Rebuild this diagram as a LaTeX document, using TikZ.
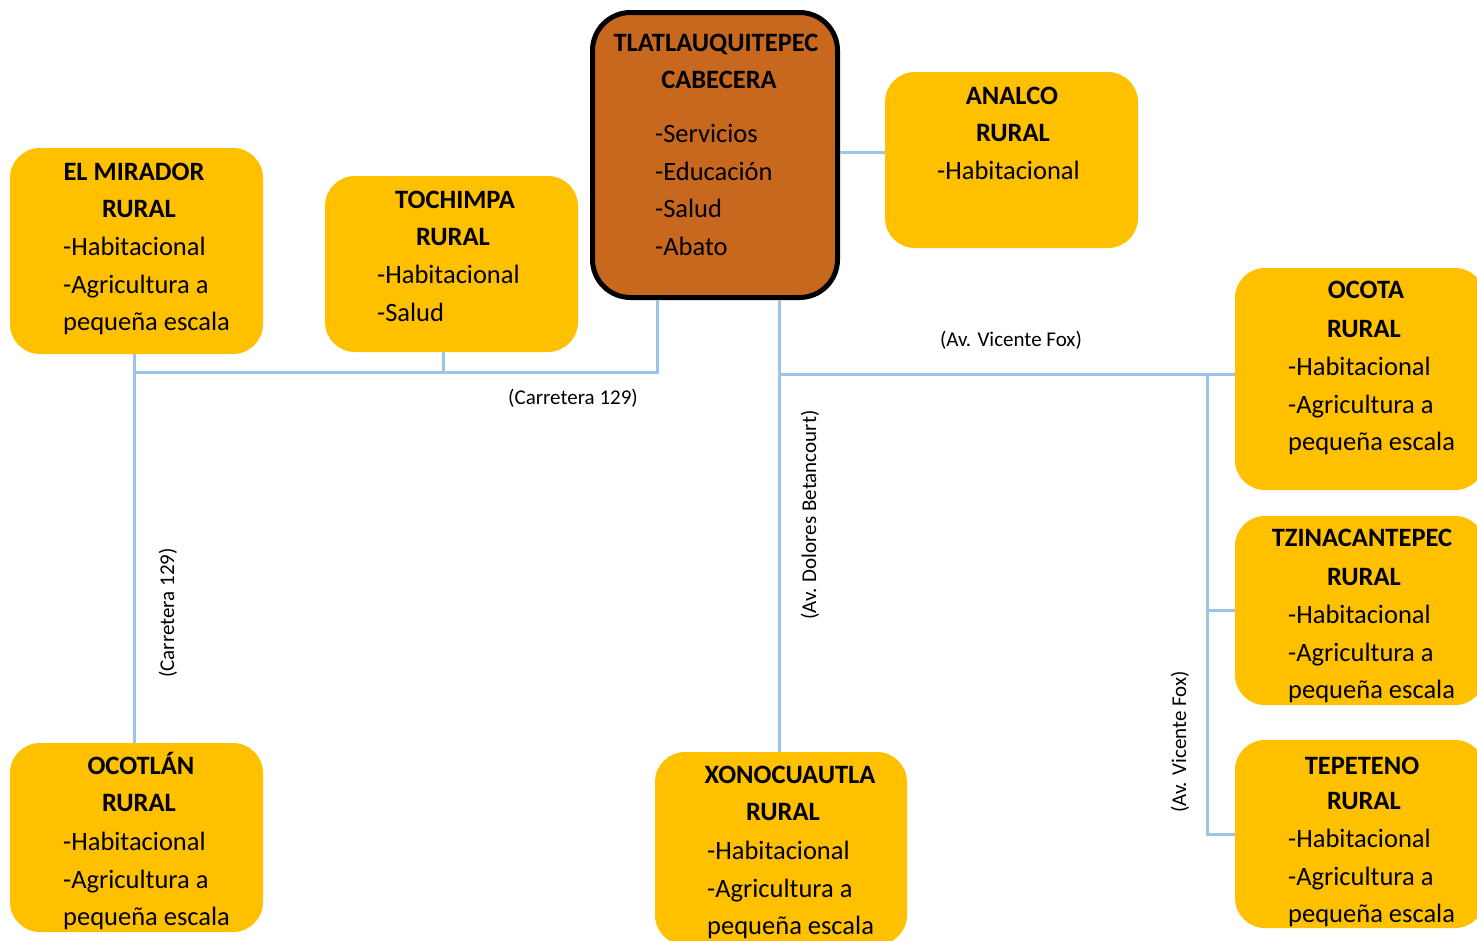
\documentclass[tikz,border=0pt]{standalone}
\usepackage{fontspec}
\setmainfont{Carlito}
\definecolor{boxyellow}{RGB}{255,192,0}
\definecolor{cabbrown}{RGB}{199,104,30}
\definecolor{roadblue}{RGB}{157,195,230}
\begin{document}
\begin{tikzpicture}[
    x=1pt, y=-1pt,
    every node/.style={font=\fontsize{26.5}{37.5}\selectfont, inner sep=0pt},
    rural/.style={fill=boxyellow, rounded corners=30pt},
    cabbox/.style={fill=cabbrown, draw=black, line width=5pt, rounded corners=38pt},
    title/.style={font=\fontsize{26.5}{37.5}\selectfont\bfseries, text height=17pt, text depth=0pt},
    uses/.style={anchor=base west, align=left},
    road/.style={draw=roadblue, line width=3pt},
    roadlabel/.style={font=\fontsize{21}{24}\selectfont},
]
\useasboundingbox (0,0) rectangle (1477,940);

% Road junctions
\coordinate (cabL) at (657,300);
\coordinate (cabR) at (779,300);
\coordinate (cj) at (134,372);
\coordinate (tj) at (443,372);
\coordinate (fj) at (779,374);
\coordinate (fk) at (1207,374);
\coordinate (aj) at (840,152);

% Boxes
\node[cabbox, minimum width=245pt, minimum height=285pt] (cab) at (715,155) {};
\node[rural, minimum width=253pt, minimum height=206pt] (mirador) at (136.5,251) {};
\node[rural, minimum width=253pt, minimum height=176pt] (tochimpa) at (451.5,264) {};
\node[rural, minimum width=253pt, minimum height=176pt] (analco) at (1011.5,160) {};
\node[rural, minimum width=250pt, minimum height=222pt] (ocota) at (1360,379) {};
\node[rural, minimum width=250pt, minimum height=189pt] (tzina) at (1360,610.5) {};
\node[rural, minimum width=250pt, minimum height=188pt] (tepeteno) at (1360,834) {};
\node[rural, minimum width=253pt, minimum height=189pt] (ocotlan) at (136.5,837.5) {};
\node[rural, minimum width=252pt, minimum height=193pt] (xono) at (781,848.5) {};

% Left side: Carretera 129
\draw[road] (mirador.south -| cj) -- (ocotlan.north -| cj);
\draw[road] (cj) -- (tj) -- (tj |- tochimpa.south);
\draw[road] (tj) -| (cabL);
% Centre: Av. Dolores Betancourt
\draw[road] (cabR) -- (xono.north -| cabR);
% Right side: Av. Vicente Fox
\draw[road] (fj) -- (ocota.west |- fj);
\draw[road] (fk) |- (tepeteno.west);
\draw[road] (fk |- tzina.west) -- (tzina.west);
% Analco
\draw[road] (aj) -- (aj -| analco.west);

% Cabecera (base = last line)
\node[title] (cab-n) at (716,43) {TLATLAUQUITEPEC};
\node[title] (cab-c) at (719,80) {CABECERA};
\node[uses] (cab-u) at (655,255) {-Servicios\\-Educación\\-Salud\\-Abato};

% El Mirador
\node[title] (mirador-n) at (134,172) {EL MIRADOR};
\node[title] (mirador-r) at (139,209) {RURAL};
\node[uses] (mirador-u) at (63,330.5) {-Habitacional\\-Agricultura a\\pequeña escala};

% Tochimpa
\node[title] (tochimpa-n) at (455,200) {TOCHIMPA};
\node[title] (tochimpa-r) at (453,237) {RURAL};
\node[uses] (tochimpa-u) at (377,321) {-Habitacional\\-Salud};

% Analco
\node[title] (analco-n) at (1012,96) {ANALCO};
\node[title] (analco-r) at (1013,133) {RURAL};
\node[uses] (analco-u) at (937,179.5) {-Habitacional};

% Ocota
\node[title] (ocota-n) at (1366,290) {OCOTA};
\node[title] (ocota-r) at (1364,329) {RURAL};
\node[uses] (ocota-u) at (1288,450.5) {-Habitacional\\-Agricultura a\\pequeña escala};

% Tzinacantepec
\node[title] (tzina-n) at (1362,538) {TZINACANTEPEC};
\node[title] (tzina-r) at (1364,577) {RURAL};
\node[uses] (tzina-u) at (1288,698.5) {-Habitacional\\-Agricultura a\\pequeña escala};

% Tepeteno
\node[title] (tepeteno-n) at (1362,766) {TEPETENO};
\node[title] (tepeteno-r) at (1364,801) {RURAL};
\node[uses] (tepeteno-u) at (1288,922.5) {-Habitacional\\-Agricultura a\\pequeña escala};

% Ocotlan
\node[title] (ocotlan-n) at (141,766) {OCOTLÁN};
\node[title] (ocotlan-r) at (139,803) {RURAL};
\node[uses] (ocotlan-u) at (63,925.5) {-Habitacional\\-Agricultura a\\pequeña escala};

% Xonocuautla
\node[title] (xono-n) at (790,775) {XONOCUAUTLA};
\node[title] (xono-r) at (783,812) {RURAL};
\node[uses] (xono-u) at (707,934.5) {-Habitacional\\-Agricultura a\\pequeña escala};

% Road names
\node[roadlabel] (lbl-car1) at (573,398) {(Carretera 129)};
\node[roadlabel, rotate=90] (lbl-car2) at (168,613) {(Carretera 129)};
\node[roadlabel] (lbl-fox1) at (1011,340) {(Av. Vicente Fox)};
\node[roadlabel, rotate=90] (lbl-dol) at (810,515) {(Av. Dolores Betancourt)};
\node[roadlabel, rotate=90] (lbl-fox2) at (1180,742) {(Av. Vicente Fox)};

\end{tikzpicture}
\end{document}
